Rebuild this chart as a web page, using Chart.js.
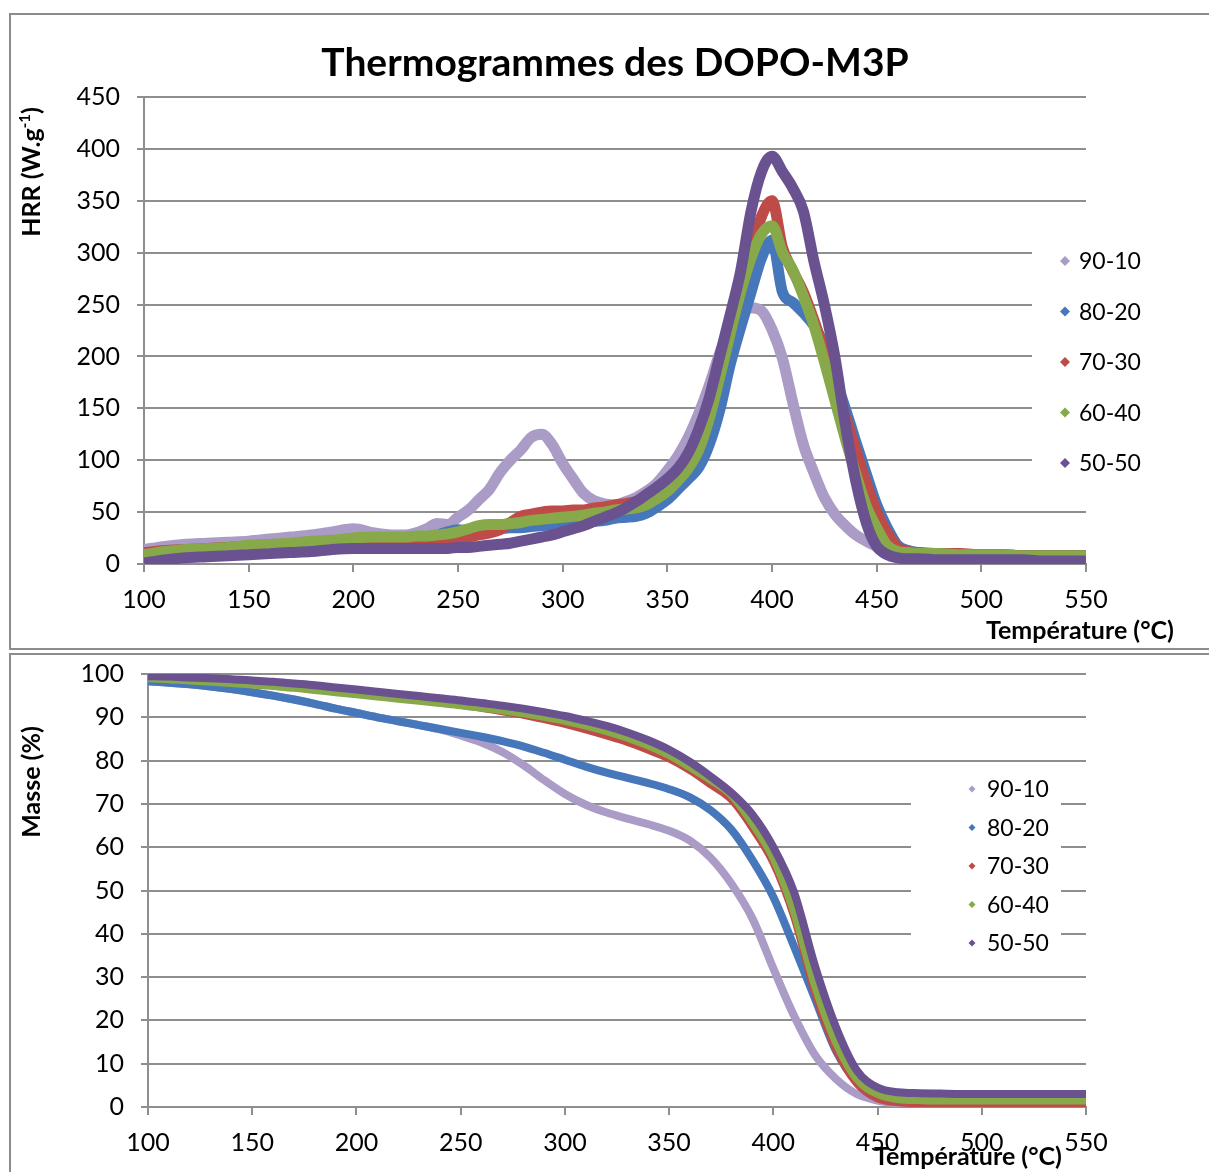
<!DOCTYPE html>
<html>
<head>
<meta charset="utf-8">
<script src="https://cdn.jsdelivr.net/npm/chart.js@4.4.0/dist/chart.umd.min.js"></script>
<style>
  body { margin: 0; background: #fff; width: 1209px; height: 1172px; overflow: hidden; position: relative; }
  .panel { position: absolute; border: 2px solid #8c8c8c; box-sizing: border-box; }
  canvas { position: absolute; left: 0; }
</style>
</head>
<body>
<div class="panel" style="left:9px; top:13px; width:1210px; height:637px;"></div>
<div class="panel" style="left:9px; top:653px; width:1210px; height:530px;"></div>
<canvas id="hrrChart" width="1209" height="650" style="top:0"></canvas>
<canvas id="massChart" width="1209" height="530" style="top:642px"></canvas>
<script>
// series (ratio DOPO / M3P)
var seriesNames = ["90-10", "80-20", "70-30", "60-40", "50-50"];
var seriesColors = ["#AA9CC6", "#4677BA", "#BE4B48", "#87A94A", "#6A5190"];

// --- HRR chart (top) ---
var hrrTemps = [100,110,120,130,140,150,160,170,180,190,200,210,220,
  225,230,235,240,245,250,255,260,265,270,275,280,285,290,295,300,305,310,315,320,325,330,335,340,
  345,350,355,360,365,370,375,380,385,390,395,400,405,410,415,420,425,430,435,440,445,450,455,460,465,470,
  480,490,500,510,520,530,540,550];

var hrr9010 = [14,17,19,20,21,22,24,26,28,31,34,30,28,
  28,30,34,39,38,45,52,62,72,88,100,110,122,125,115,97,82,68,61,58,57,60,64,70,
  78,90,104,122,145,172,203,228,240,247,244,226,198,155,115,88,64,48,37,28,22,17,14,12,11,10,
  10,9,9,8,8,8,8,8];
var hrr8020 = [8,10,11,12,13,14,15,16,18,19,21,22,23,
  24,25,26,28,31,33,32,32,33,34,35,35,36,37,38,38,39,40,41,42,44,45,46,49,
  55,62,72,82,93,115,148,192,228,262,295,312,262,252,242,230,210,180,150,118,87,57,35,18,13,11,
  10,9,9,9,8,8,8,8];
var hrr7030 = [11,13,14,15,16,17,17,18,19,20,21,21,21,
  21,21,21,22,23,24,26,28,30,33,40,46,48,50,51,51,52,52,54,55,57,58,60,62,
  67,74,84,96,115,145,185,225,262,300,335,350,305,282,262,235,205,173,142,110,78,50,30,16,12,11,
  10,10,9,9,8,8,8,8];
var hrr6040 = [9,12,14,15,16,18,19,20,22,23,25,26,26,
  26,27,27,28,29,31,34,37,38,38,39,40,42,43,44,45,46,47,49,50,52,53,54,57,
  63,70,80,92,110,140,180,222,262,295,318,326,300,283,258,230,195,158,121,87,56,35,18,12,11,10,
  10,9,9,9,8,8,8,8];
var hrr5050 = [1,4,6,7,8,9,10,11,12,14,15,15,15,
  15,15,15,15,15,16,16,17,18,19,20,22,24,26,28,31,34,37,41,45,49,54,60,67,
  74,82,92,107,130,160,200,240,282,340,378,393,378,362,340,292,250,200,135,80,40,17,9,6,5,5,
  4,4,4,4,4,3,3,3];
var hrrTicks = [0, 450, 50];

// --- Mass chart (bottom) ---
var massTemps = [100,110,120,130,140,150,160,170,180,190,200,210,220,230,240,250,260,270,280,290,
  300,310,320,330,340,350,360,370,380,390,400,410,420,430,440,450,460,470,480,490,500,510,520,530,540,550];

var mass9010 = [98.3,98,97.6,97.1,96.5,95.8,95,94.1,93.1,92,91,90,89.1,88.2,87.2,85.8,84.2,82,79,75.5,
  72.3,69.8,68,66.6,65.3,63.8,61.5,57.5,51.5,43.5,32,21,12,6.5,3,1.5,0.8,0.5,0.4,0.3,0.3,0.3,0.3,0.3,0.3,0.3];
var mass8020 = [98.3,98,97.6,97.1,96.5,95.8,95,94.1,93.1,92,91,90,89.1,88.2,87.3,86.4,85.5,84.5,83.3,81.8,
  80.2,78.6,77.2,76,74.8,73.4,71.5,68.5,64,57,48.5,37,25,13,6,3,1.8,1.2,1,1,1,1,1,1,1,1];
var mass7030 = [99.2,99,98.8,98.5,98.2,97.9,97.5,97.1,96.6,96.1,95.6,95.1,94.6,94.1,93.5,92.9,92.2,91.4,90.6,89.6,
  88.5,87.2,85.8,84.3,82.5,80.5,77.8,74.5,71,64.5,56.5,44,26.5,13.5,5.5,2,1.1,0.9,0.8,0.8,0.8,0.8,0.8,0.8,0.8,0.8];
var mass6040 = [99,98.8,98.5,98.2,97.9,97.6,97.2,96.8,96.3,95.8,95.3,94.8,94.3,93.8,93.3,92.8,92.2,91.6,90.9,90.1,
  89.2,88.1,86.8,85.3,83.5,81.3,78.5,75.5,72,65.5,57.5,45,28,15,6.5,3,1.8,1.6,1.5,1.5,1.5,1.5,1.5,1.5,1.5,1.5];
var mass5050 = [99.5,99.4,99.2,99,98.8,98.5,98.2,97.8,97.4,96.9,96.4,95.9,95.4,94.9,94.4,93.9,93.3,92.7,92,91.2,
  90.3,89.2,88,86.5,84.7,82.5,79.7,76.3,72.5,67.5,60,49.5,32.5,18.5,8.5,4.5,3.4,3.2,3.1,3,3,3,3,3,3,3];
var massTicks = [0, 100, 10];
var tempTicks = [100, 550, 50];

var fontFamily = "Lato, 'Open Sans', sans-serif";
var gridColor = "#8e8e8e";

function buildDatasets(temps, seriesList, width) {
  var sets = [];
  for (var i = 0; i < seriesList.length; i++) {
    var pts = [];
    for (var j = 0; j < temps.length; j++) {
      pts.push({ x: temps[j], y: seriesList[i][j] });
    }
    sets.push({
      label: seriesNames[i],
      data: pts,
      borderColor: seriesColors[i],
      backgroundColor: seriesColors[i],
      borderWidth: width,
      pointRadius: 0,
      cubicInterpolationMode: "monotone",
      borderJoinStyle: "round",
      borderCapStyle: "round",
      order: seriesList.length - i  // last series drawn on top
    });
  }
  return sets;
}

// titles, axis titles and legend drawn on top of the chart
var decoPlugin = {
  id: "deco",
  afterDraw: function (chart, args, opts) {
    var ctx = chart.ctx;
    ctx.save();

    var lg = opts.legend;
    ctx.fillStyle = "#fff";
    ctx.fillRect(lg.x, lg.y, lg.w, lg.h);
    ctx.font = lg.size + "px " + fontFamily;
    ctx.textBaseline = "middle";
    ctx.textAlign = "left";
    for (var i = 0; i < seriesNames.length; i++) {
      var cy = lg.first + i * lg.step;
      ctx.fillStyle = seriesColors[i];
      ctx.beginPath();
      ctx.moveTo(lg.markX, cy - lg.mark);
      ctx.lineTo(lg.markX + lg.mark, cy);
      ctx.lineTo(lg.markX, cy + lg.mark);
      ctx.lineTo(lg.markX - lg.mark, cy);
      ctx.closePath();
      ctx.fill();
      ctx.fillStyle = "#000";
      ctx.fillText(seriesNames[i], lg.textX, cy + 1);
    }

    ctx.fillStyle = "#000";
    ctx.textBaseline = "alphabetic";
    if (opts.title) {
      ctx.font = "bold " + opts.title.size + "px " + fontFamily;
      ctx.textAlign = "center";
      ctx.fillText(opts.title.text, opts.title.x, opts.title.y);
    }

    var xt = opts.xTitle;
    ctx.font = "bold " + xt.size + "px " + fontFamily;
    ctx.textAlign = "center";
    ctx.fillText(xt.text, xt.x, xt.y);

    // rotated y title, pieces allow a superscript
    var yt = opts.yTitle;
    var total = 0;
    yt.parts.forEach(function (p) {
      ctx.font = "bold " + p.size + "px " + fontFamily;
      p.w = ctx.measureText(p.text).width;
      total += p.w;
    });
    ctx.translate(yt.x, yt.y);
    ctx.rotate(-Math.PI / 2);
    ctx.textAlign = "left";
    var pos = -total / 2;
    yt.parts.forEach(function (p) {
      ctx.font = "bold " + p.size + "px " + fontFamily;
      ctx.fillText(p.text, pos, -(p.rise || 0));
      pos += p.w;
    });
    ctx.restore();
  }
};

function makeChart(id, temps, seriesList, yTicks, lineW, geom, deco) {
  return new Chart(document.getElementById(id), {
    type: "line",
    data: { datasets: buildDatasets(temps, seriesList, lineW) },
    plugins: [decoPlugin],
    options: {
      responsive: false,
      animation: false,
      layout: { padding: { left: 0, top: geom.top, right: geom.right, bottom: 0 } },
      plugins: {
        legend: { display: false },
        tooltip: { enabled: false },
        deco: deco
      },
      scales: {
        x: {
          type: "linear",
          min: tempTicks[0], max: tempTicks[1],
          afterFit: function (s) { s.height = geom.xHeight; },
          ticks: { stepSize: tempTicks[2], color: "#000", padding: 13, maxRotation: 0,
                   font: { family: fontFamily, size: 25 } },
          grid: { drawOnChartArea: false, drawTicks: true, tickLength: 8, color: gridColor, lineWidth: 2 },
          border: { display: true, color: gridColor, width: 2 }
        },
        y: {
          min: yTicks[0], max: yTicks[1],
          afterFit: function (s) { s.width = geom.yWidth; },
          ticks: { stepSize: yTicks[2], color: "#000", padding: 17,
                   font: { family: fontFamily, size: 25 } },
          grid: { color: gridColor, lineWidth: 2, tickLength: 7 },
          border: { display: true, color: gridColor, width: 2 }
        }
      }
    }
  });
}

makeChart("hrrChart", hrrTemps, [hrr9010, hrr8020, hrr7030, hrr6040, hrr5050], hrrTicks, 11,
  { top: 97, right: 123, xHeight: 86, yWidth: 144 },
  {
    title: { text: "Thermogrammes des DOPO-M3P", size: 39, x: 615, y: 76 },
    xTitle: { text: "Température (°C)", size: 25, x: 1080, y: 639 },
    yTitle: { x: 40, y: 172, parts: [
      { text: "HRR (W.g", size: 25 },
      { text: "-1", size: 15, rise: 10 },
      { text: ")", size: 25 }
    ] },
    legend: { x: 1032, y: 240, w: 120, h: 246, markX: 1065, mark: 5, textX: 1079,
              first: 261, step: 50.5, size: 23 }
  });

// canvas starts at y=642 on the page
makeChart("massChart", massTemps, [mass9010, mass8020, mass7030, mass6040, mass5050], massTicks, 8,
  { top: 32, right: 123, xHeight: 65, yWidth: 148 },
  {
    xTitle: { text: "Température (°C)", size: 25, x: 968, y: 523 },
    yTitle: { x: 40, y: 140, parts: [ { text: "Masse (%)", size: 25 } ] },
    legend: { x: 911, y: 120, w: 150, h: 213, markX: 972, mark: 3.5, textX: 987,
              first: 147, step: 38.5, size: 23 }
  });
</script>
</body>
</html>
